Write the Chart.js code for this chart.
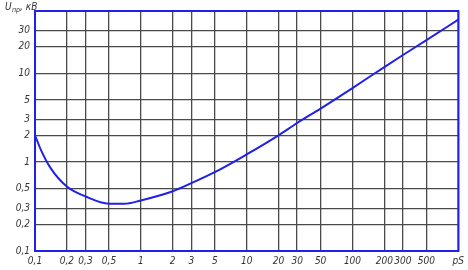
<!DOCTYPE html>
<html>
<head>
<meta charset="utf-8">
<script src="https://cdn.jsdelivr.net/npm/chart.js"></script>
<style>
  html, body { margin: 0; padding: 0; background: #fff; }
  #wrap { width: 468px; height: 270px; }
</style>
</head>
<body>
<div id="wrap"><canvas id="paschen"></canvas></div>
<script>
// Кривая Пашена: напряжение пробоя от pS
const pS = [0.1, 0.116, 0.14, 0.2, 0.3, 0.5, 0.7, 1, 1.5, 2, 3, 5, 10, 20, 30, 50, 100, 200, 300, 500, 1000];
const uBreak = [2.0, 1.3, 0.86, 0.53, 0.41, 0.34, 0.34, 0.37, 0.42, 0.47, 0.58, 0.77, 1.22, 2.0, 2.75, 4.0, 6.8, 11.7, 16.0, 23.5, 40];

const xTicks = [0.1, 0.2, 0.3, 0.5, 1, 2, 3, 5, 10, 20, 30, 50, 100, 200, 300, 500, 1000];
const xLabels = ['0,1', '0,2', '0,3', '0,5', '1', '2', '3', '5', '10', '20', '30', '50', '100', '200', '300', '500', 'pS'];
const yTicks = [0.1, 0.2, 0.3, 0.5, 1, 2, 3, 5, 10, 20, 30, 50];
const yLabels = ['0,1', '0,2', '0,3', '0,5', '1', '2', '3', '5', '10', '20', '30', ''];

const BLUE = '#2020e8';
const FAMILY = '"DejaVu Sans Condensed", "DejaVu Sans", sans-serif';
const tickFont = { family: FAMILY, style: 'italic', size: 10 };

// рамка и подпись оси Y
const framePlugin = {
    id: 'frame',
    afterDatasetsDraw(chart) {
        const a = chart.chartArea;
        const ctx = chart.ctx;
        ctx.save();
        ctx.strokeStyle = BLUE;
        ctx.lineWidth = 2;
        ctx.strokeRect(a.left, a.top, a.right - a.left, a.bottom - a.top);
        ctx.fillStyle = '#333';
        ctx.textBaseline = 'alphabetic';
        ctx.font = 'italic 10px ' + FAMILY;
        ctx.fillText('U', 5, 10);
        ctx.font = 'italic 7px ' + FAMILY;
        ctx.fillText('пр', 12, 12);
        ctx.font = 'italic 10px ' + FAMILY;
        ctx.fillText(', кВ', 20, 10);
        ctx.restore();
    }
};

new Chart(document.getElementById('paschen'), {
    type: 'line',
    data: {
        datasets: [{
            data: pS.map((x, i) => ({ x: x, y: uBreak[i] })),
            borderColor: BLUE,
            borderWidth: 2,
            pointRadius: 0,
            cubicInterpolationMode: 'monotone',
            fill: false
        }]
    },
    options: {
        responsive: true,
        maintainAspectRatio: false,
        animation: false,
        layout: { padding: { top: 10, right: 5, left: 0, bottom: 0 } },
        plugins: {
            legend: { display: false },
            tooltip: { enabled: false }
        },
        scales: {
            x: {
                type: 'logarithmic',
                min: 0.1,
                max: 1000,
                afterBuildTicks: s => { s.ticks = xTicks.map(v => ({ value: v })); },
                afterFit: s => { s.height = 19; },
                grid: { color: '#4a4a4a', lineWidth: 1.3, drawTicks: false },
                border: { display: false },
                ticks: {
                    autoSkip: false,
                    maxRotation: 0,
                    padding: 4,
                    color: '#333',
                    font: tickFont,
                    callback: (v, i) => xLabels[i]
                }
            },
            y: {
                type: 'logarithmic',
                min: 0.1,
                max: 50,
                afterBuildTicks: s => { s.ticks = yTicks.map(v => ({ value: v })); },
                afterFit: s => { s.width = 35; },
                grid: { color: '#4a4a4a', lineWidth: 1.3, drawTicks: false },
                border: { display: false },
                ticks: {
                    autoSkip: false,
                    padding: 5,
                    color: '#333',
                    font: tickFont,
                    callback: (v, i) => yLabels[i]
                }
            }
        }
    },
    plugins: [framePlugin]
});
</script>
</body>
</html>
